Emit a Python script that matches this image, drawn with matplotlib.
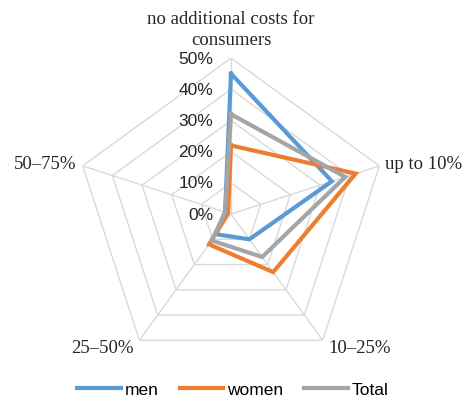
import numpy as np
import matplotlib.pyplot as plt
from matplotlib.transforms import offset_copy

# categories, clockwise from the top
categories = ["no additional costs for\nconsumers", "up to 10%", "10–25%", "25–50%", "50–75%"]
men = [45, 34, 10, 8, 2]
women = [22, 42, 23, 12, 1]
total = [32, 38.5, 17, 10.5, 2]
levels = [0, 10, 20, 30, 40, 50]
level_labels = ["0%", "10%", "20%", "30%", "40%", "50%"]

colors = {"men": "#5B9BD5", "women": "#ED7D31", "Total": "#A5A5A5"}

n = len(categories)
angles = np.arange(n) * 2 * np.pi / n

fig = plt.figure(figsize=(4.66, 4.02), dpi=100)
ax = fig.add_axes([0.161, 0.077, 0.6695, 0.776], projection="polar")
ax.set_theta_offset(np.pi / 2)
ax.set_theta_direction(-1)
ax.set_ylim(0, 50)
ax.grid(False)
ax.spines["polar"].set_visible(False)
ax.set_xticks([])
ax.set_yticks([])
ax.patch.set_alpha(0)

# pentagon grid
closed = np.append(angles, angles[0])
for lv in levels[1:]:
    ax.plot(closed, [lv] * (n + 1), color="#D9D9D9", lw=1, zorder=1)
for a in angles:
    ax.plot([a, a], [0, 50], color="#D9D9D9", lw=1, zorder=1)

# series
for name, vals in [("men", men), ("women", women), ("Total", total)]:
    ax.plot(closed, vals + vals[:1], color=colors[name], lw=3, label=name,
            solid_joinstyle="miter", zorder=3)

# radial labels left of the top spoke
tr = offset_copy(ax.transData, fig=fig, x=-18, y=0, units="dots")
for lv, lab in zip(levels, level_labels):
    ax.text(0, lv, lab, transform=tr, ha="right", va="center",
            fontsize=12.5, family="Liberation Sans", color="#262626")

# category labels
serif = "Liberation Serif"
fs = 13.5
ax.text(angles[0], 53.3, categories[0], ha="center", va="bottom", fontsize=fs,
        family=serif, color="#262626", linespacing=1.3)
ax.text(angles[1], 52, categories[1], ha="left", va="center", fontsize=fs, family=serif, color="#262626")
ax.text(angles[2], 53, categories[2], ha="left", va="center", fontsize=fs, family=serif, color="#262626")
ax.text(angles[3], 53, categories[3], ha="right", va="center", fontsize=fs, family=serif, color="#262626")
ax.text(angles[4], 52, categories[4], ha="right", va="center", fontsize=fs, family=serif, color="#262626")

fig.legend(loc="lower center", ncol=3, frameon=False, bbox_to_anchor=(0.5, -0.028),
           prop={"family": "Liberation Sans", "size": 12.5}, handlelength=2.5,
           columnspacing=1.2, handletextpad=0.25)

fig.savefig("out.png", dpi=100)
